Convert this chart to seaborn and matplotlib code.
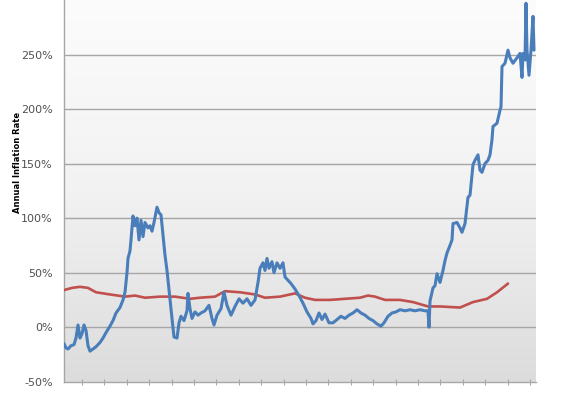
import numpy as np
import pandas as pd
import matplotlib
matplotlib.use("Agg")
import matplotlib.pyplot as plt
import seaborn as sns
from matplotlib.colors import LinearSegmentedColormap

# ---- data (period index, annual inflation %) ----
blue_t = [0, 2, 4, 7, 10, 12, 14, 16, 18, 20, 22, 24, 26, 29, 32, 36, 39, 42, 46, 49,
          52, 56, 59, 61, 63, 64, 66, 67, 69, 71, 73, 75, 77, 79, 81, 84, 86, 88, 90, 93,
          95, 97, 99, 101, 103, 105, 106, 108, 110, 113, 115, 117, 120, 123, 124, 126, 128, 131, 134, 137,
          141, 145, 148, 150, 153, 157, 160, 163, 167, 171, 175, 179, 183, 187, 191, 194, 196, 199, 201, 203,
          205, 208, 210, 213, 216, 219, 221, 224, 227, 231, 235, 239, 243, 247, 249, 252, 255, 258, 261, 265,
          269, 273, 277, 281, 285, 289, 293, 297, 301, 305, 309, 313, 317, 320, 324, 328, 332, 336, 341, 346,
          351, 356, 361, 364, 365, 366, 369, 371, 373, 376, 379, 381, 383, 386, 388, 389, 393, 396, 398, 401,
          404, 406, 409, 411, 414, 416, 418, 421, 424, 426, 428, 429, 433, 436, 437, 438, 441, 444, 446, 449,
          453, 456, 458, 459, 461, 462, 463, 465, 467, 469, 470]
blue_v = [-15, -19, -20, -17, -16, -10, 2, -10, -6, 2, -3, -17, -22, -20, -18, -14, -10, -5, 1, 6,
          13, 18, 25, 32, 50, 63, 70, 80, 102, 93, 100, 80, 98, 83, 96, 91, 93, 88, 96, 110,
          105, 103, 84, 66, 52, 34, 25, 8, -9, -10, 4, 10, 6, 15, 31, 17, 8, 14, 11, 13,
          15, 20, 8, 2, 11, 17, 32, 20, 11, 19, 26, 22, 26, 20, 25, 41, 54, 59, 52, 63,
          54, 60, 50, 59, 54, 59, 46, 43, 40, 35, 29, 22, 14, 8, 3, 6, 13, 7, 12, 4,
          4, 7, 10, 8, 11, 13, 16, 13, 11, 8, 6, 3, 1, 4, 10, 13, 14, 16, 15, 16,
          15, 16, 15, 15, 0, 24, 36, 38, 49, 41, 52, 61, 68, 75, 80, 95, 96, 91, 87, 95,
          119, 121, 149, 153, 158, 144, 142, 150, 153, 158, 172, 184, 187, 199, 202, 239, 242, 254, 247, 242,
          247, 251, 229, 251, 245, 297, 254, 231, 254, 285, 254]

red_t = [0, 8, 16, 24, 32, 46, 61, 71, 81, 96, 111, 126, 136, 151, 161, 176, 191, 201, 216, 231,
         241, 251, 266, 281, 296, 304, 311, 321, 336, 349, 364, 376, 396, 409, 423, 433, 444]
red_v = [34, 36, 37, 36, 32, 30, 28, 29, 27, 28, 28, 26, 27, 28, 33, 32, 30, 27, 28, 31,
         27, 25, 25, 26, 27, 29, 28, 25, 25, 23, 19, 19, 18, 23, 26, 32, 40]

y_ticks = [-50, 0, 50, 100, 150, 200, 250]
y_tick_labels = ["-50%", "0%", "50%", "100%", "150%", "200%", "250%"]

blue_df = pd.DataFrame({"t": blue_t, "v": blue_v})
red_df = pd.DataFrame({"t": red_t, "v": red_v})

sns.set_style("white")
plt.rcParams["font.family"] = ["DejaVu Sans"]

fig = plt.figure(figsize=(5.61, 3.98), dpi=100)
ax = fig.add_axes([64 / 561, 1 - 381.7 / 398, (536 - 64) / 561, 381.7 / 398])

# gradient background (light at top, grey at bottom)
grad = np.linspace(0, 1, 256).reshape(-1, 1)
cmap = LinearSegmentedColormap.from_list("bg", ["#fcfcfc", "#f2f2f2", "#dcdcdc"])
ax.imshow(grad, extent=[0, 1, 0, 1], origin="upper", transform=ax.transAxes,
          cmap=cmap, aspect="auto", zorder=0)

for yv in y_ticks[1:]:
    ax.axhline(yv, color="#a6a6a6", lw=1.0, zorder=1)

sns.lineplot(data=red_df, x="t", y="v", ax=ax, color="#C0504D", lw=1.9, zorder=3)
sns.lineplot(data=blue_df, x="t", y="v", ax=ax, color="#4A7EBB", lw=2.2, zorder=4)

ax.set_xlim(0, 472)
ax.set_ylim(-50, 300)
ax.set_yticks(y_ticks)
ax.set_yticklabels(y_tick_labels)
ax.set_xticks([18 + 22.4 * i for i in range(21)])
ax.set_xticklabels([])
ax.tick_params(axis="x", bottom=True, direction="inout", length=5,
               color="#a6a6a6", width=0.8)
ax.tick_params(axis="y", left=False, length=0, pad=8, labelsize=8,
               labelcolor="#505050")
ax.set_xlabel("")
ax.set_ylabel("")

for s in ["top", "right"]:
    ax.spines[s].set_visible(False)
for s in ["left", "bottom"]:
    ax.spines[s].set_color("#a6a6a6")
    ax.spines[s].set_linewidth(1.0)

fig.text(18 / 561, 1 - 162 / 398, "Annual Inflation Rate", rotation=90,
         ha="center", va="center", fontsize=6, fontweight="bold", color="black")

fig.savefig("out.png", dpi=100, facecolor="white")
